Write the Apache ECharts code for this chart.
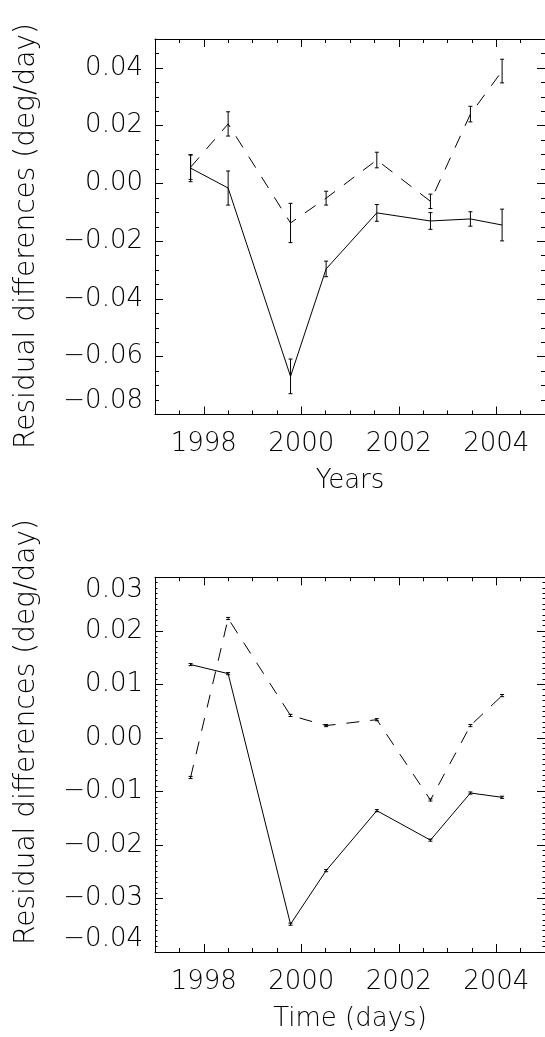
<!DOCTYPE html>
<html>
<head>
<meta charset="utf-8">
<script src="https://cdn.jsdelivr.net/npm/echarts@6/dist/echarts.min.js"></script>
<style>
  html, body { margin: 0; padding: 0; background: #fff; }
  #chart { width: 545px; height: 1037px; }
</style>
</head>
<body>
<div id="chart"></div>
<script>
// Observation epochs (decimal years), shared by both panels
const epochs = [1997.73, 1998.50, 1999.78, 2000.51, 2001.55, 2002.65, 2003.47, 2004.12];

// Upper panel: residual differences with 1-sigma errors
const upperSolid     = [0.0053, -0.0016, -0.0668, -0.0296, -0.0102, -0.0130, -0.0123, -0.0144];
const upperSolidErr  = [0.0047,  0.0059,  0.0060,  0.0027,  0.0029,  0.0029,  0.0025,  0.0055];
const upperDashed    = [0.0056,  0.0206, -0.0137, -0.0051,  0.0081, -0.0062,  0.0240,  0.0389];
const upperDashedErr = [0.0042,  0.0042,  0.0068,  0.0024,  0.0027,  0.0025,  0.0027,  0.0041];

// Lower panel
const lowerSolid     = [0.0137, 0.0120, -0.0348, -0.0248, -0.0136, -0.0191, -0.0103, -0.0111];
const lowerSolidErr  = [0.0002, 0.0002,  0.0002,  0.0002,  0.0002,  0.0002,  0.0002,  0.0002];
const lowerDashed    = [-0.0074, 0.0223, 0.0042, 0.0023, 0.0034, -0.0116, 0.0023, 0.0079];
const lowerDashedErr = [0.0002,  0.0002, 0.0002, 0.0002, 0.0002,  0.0002, 0.0002, 0.0002];

// Tick labels
const yearTicks  = [1998, 2000, 2002, 2004];
const upperTicks = [-0.08, -0.06, -0.04, -0.02, 0.00, 0.02, 0.04];
const lowerTicks = [-0.04, -0.03, -0.02, -0.01, 0.00, 0.01, 0.02, 0.03];

const yTitle = 'Residual differences (deg/day)';
const FONT = '"DejaVu Sans ExtraLight", "DejaVu Sans", sans-serif';
const WEIGHT = 200;
const INK = '#000';

const fmtY = v => (v < 0 ? '\u2212' : '') + Math.abs(v).toFixed(2);

function pairs(xs, ys) { return xs.map((x, i) => [x, ys[i]]); }
function errTriples(xs, ys, es) { return xs.map((x, i) => [x, ys[i] - es[i], ys[i] + es[i]]); }

// Error bar: vertical stroke with short caps
function errorBarRender(params, api) {
  const lo = api.coord([api.value(0), api.value(1)]);
  const hi = api.coord([api.value(0), api.value(2)]);
  const w = 2;
  const st = { stroke: '#000', lineWidth: 1 };
  return {
    type: 'group',
    children: [
      { type: 'line', shape: { x1: lo[0], y1: lo[1], x2: hi[0], y2: hi[1] }, style: st },
      { type: 'line', shape: { x1: lo[0] - w, y1: lo[1], x2: lo[0] + w, y2: lo[1] }, style: st },
      { type: 'line', shape: { x1: hi[0] - w, y1: hi[1], x2: hi[0] + w, y2: hi[1] }, style: st }
    ]
  };
}

const grids = [
  { left: 155, top: 39, width: 393.3, height: 375.5 },
  { left: 155, top: 577.3, width: 393.3, height: 374.7 }
];

const panels = [
  { ymin: -0.08, ymax: 0.05, ticks: upperTicks, minor: 0.005, minorLen: 4, xname: 'Years' },
  { ymin: -0.04, ymax: 0.03, ticks: lowerTicks, minor: 0.001, minorLen: 2.5, xname: 'Time (days)' }
];

const axisLineStyle = { show: true, onZero: false, lineStyle: { color: '#000', width: 1 } };
const noLine = { show: false, onZero: false };
const textBase = { color: INK, fontFamily: FONT, fontWeight: WEIGHT, fontSize: 26 };

const xAxis = [];
const yAxis = [];
panels.forEach((p, g) => {
  // bottom: major ticks with labels
  xAxis.push({
    type: 'value', gridIndex: g, position: 'bottom', min: 1997, max: 2005,
    axisLine: axisLineStyle, splitLine: { show: false },
    axisTick: { inside: true, length: 8, customValues: yearTicks, lineStyle: { color: '#000' } },
    axisLabel: Object.assign({ customValues: yearTicks, margin: 17, formatter: v => String(v) }, textBase),
    name: p.xname, nameLocation: 'middle', nameGap: 54,
    nameTextStyle: Object.assign({}, textBase)
  });
  // bottom: half-year minor ticks
  xAxis.push({
    type: 'value', gridIndex: g, position: 'bottom', min: 1997, max: 2005, interval: 0.5,
    axisLine: noLine, splitLine: { show: false }, axisLabel: { show: false },
    axisTick: { inside: true, length: 4, lineStyle: { color: '#000' } }
  });
  // top border ticks
  xAxis.push({
    type: 'value', gridIndex: g, position: 'top', min: 1997, max: 2005,
    axisLine: axisLineStyle, splitLine: { show: false }, axisLabel: { show: false },
    axisTick: { inside: true, length: 8, customValues: yearTicks, lineStyle: { color: '#000' } }
  });
  xAxis.push({
    type: 'value', gridIndex: g, position: 'top', min: 1997, max: 2005, interval: 0.5,
    axisLine: noLine, splitLine: { show: false }, axisLabel: { show: false },
    axisTick: { inside: true, length: 4, lineStyle: { color: '#000' } }
  });

  // left: major ticks with labels
  yAxis.push({
    type: 'value', gridIndex: g, position: 'left', min: p.ymin, max: p.ymax,
    axisLine: axisLineStyle, splitLine: { show: false },
    axisTick: { inside: true, length: 8, customValues: p.ticks, lineStyle: { color: '#000' } },
    axisLabel: Object.assign({
      customValues: p.ticks, margin: 12,
      formatter: fmtY, verticalAlignMinLabel: 'bottom',
      verticalAlignMaxLabel: p.ticks[p.ticks.length - 1] === p.ymax ? 'top' : 'middle'
    }, textBase)
  });
  yAxis.push({
    type: 'value', gridIndex: g, position: 'left', min: p.ymin, max: p.ymax, interval: p.minor,
    axisLine: noLine, splitLine: { show: false }, axisLabel: { show: false },
    axisTick: { inside: true, length: p.minorLen, lineStyle: { color: '#000' } }
  });
  // right border ticks
  yAxis.push({
    type: 'value', gridIndex: g, position: 'right', min: p.ymin, max: p.ymax,
    axisLine: axisLineStyle, splitLine: { show: false }, axisLabel: { show: false },
    axisTick: { inside: true, length: 8, customValues: p.ticks, lineStyle: { color: '#000' } }
  });
  yAxis.push({
    type: 'value', gridIndex: g, position: 'right', min: p.ymin, max: p.ymax, interval: p.minor,
    axisLine: noLine, splitLine: { show: false }, axisLabel: { show: false },
    axisTick: { inside: true, length: p.minorLen, lineStyle: { color: '#000' } }
  });
});

function lineSeries(g, ys, dashed) {
  return {
    type: 'line', xAxisIndex: g * 4, yAxisIndex: g * 4, data: pairs(epochs, ys),
    symbol: 'none', silent: true, animation: false,
    lineStyle: { color: '#000', width: 1, type: dashed ? [13, 11] : 'solid' }
  };
}
function errSeries(g, ys, es) {
  return {
    type: 'custom', xAxisIndex: g * 4, yAxisIndex: g * 4, data: errTriples(epochs, ys, es),
    renderItem: errorBarRender, silent: true, animation: false
  };
}

const titleFont = WEIGHT + ' 28px ' + FONT;

const option = {
  backgroundColor: '#fff',
  animation: false,
  grid: grids,
  xAxis, yAxis,
  series: [
    lineSeries(0, upperSolid, false), errSeries(0, upperSolid, upperSolidErr),
    lineSeries(0, upperDashed, true), errSeries(0, upperDashed, upperDashedErr),
    lineSeries(1, lowerSolid, false), errSeries(1, lowerSolid, lowerSolidErr),
    lineSeries(1, lowerDashed, true), errSeries(1, lowerDashed, lowerDashedErr)
  ],
  graphic: [
    { type: 'text', x: 27, y: 236, rotation: Math.PI / 2,
      style: { text: yTitle, fill: INK, font: titleFont, align: 'center', verticalAlign: 'middle' } },
    { type: 'text', x: 27, y: 732, rotation: Math.PI / 2,
      style: { text: yTitle, fill: INK, font: titleFont, align: 'center', verticalAlign: 'middle' } }
  ]
};

const chart = echarts.init(document.getElementById('chart'), null, { renderer: 'canvas' });
chart.setOption(option);
</script>
</body>
</html>
